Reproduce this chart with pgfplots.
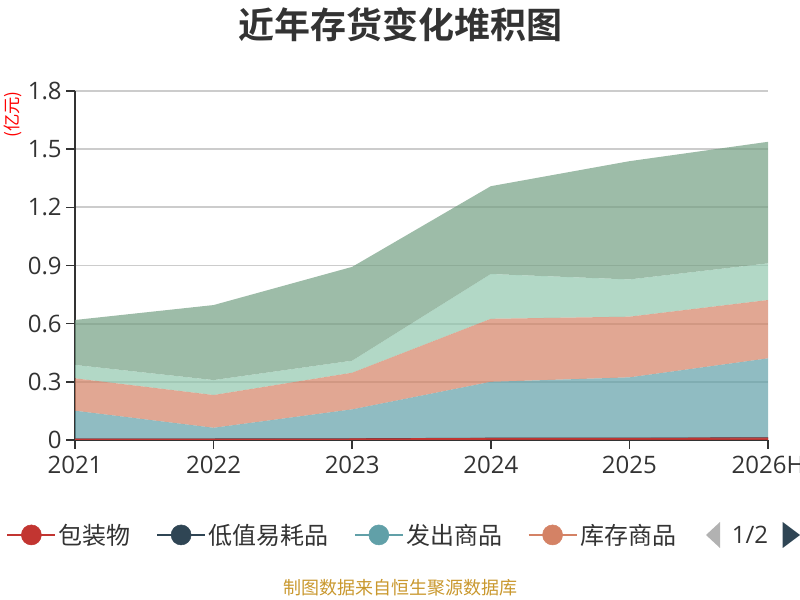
\documentclass[border=0pt]{standalone}
\usepackage{pgfplots}
\pgfplotsset{compat=1.18}
\usepackage{fontspec}
\setmainfont{Open Sans}
\newfontfamily\cjk{Noto Sans CJK SC}
\newfontfamily\cjkbold{Noto Sans CJK SC Bold}
\definecolor{cA}{HTML}{C23531}
\definecolor{cB}{HTML}{2F4554}
\definecolor{cC}{HTML}{61A0A8}
\definecolor{cD}{HTML}{D48265}
\definecolor{cE}{HTML}{91C7AE}
\definecolor{cF}{HTML}{749F83}
\definecolor{c333}{HTML}{333333}
\definecolor{gridc}{HTML}{CCCCCC}
\definecolor{foot}{HTML}{C9982E}
\begin{document}
\begin{tikzpicture}
\path[use as bounding box] (0,0) rectangle (600pt,450pt);
\begin{axis}[
  at={(56.25pt,120pt)}, anchor=south west, scale only axis,
  width=519.75pt, height=261.75pt,
  xmin=0, xmax=5, ymin=0, ymax=1.8,
  xtick={0,1,2,3,4,5}, xticklabels={2021,2022,2023,2024,2025,2026H},
  ytick={0,0.3,0.6,0.9,1.2,1.5,1.8}, yticklabels={0,0.3,0.6,0.9,1.2,1.5,1.8},
  axis x line*=bottom, axis y line*=left,
  axis line style={color=c333, line width=1.1pt, -},
  tick align=outside, major tick length=6.5pt,
  xtick style={color=c333, line width=1.1pt},
  ytick style={color=c333, line width=1.1pt},
  ymajorgrids, grid style={color=gridc, line width=1.3pt},
  tick label style={font=\fontsize{18}{20}\selectfont, color=c333},
  xticklabel style={yshift=-2pt},
  /pgf/number format/assume math mode=true,
  stack plots=y,
  legend style={at={(-0.105,-0.272)}, anchor=west, draw=none, fill=none,
    font=\cjk\fontsize{18}{20}\selectfont, text=c333,
    /tikz/every even column/.append style={column sep=17pt}},
  legend columns=4,
  legend image code/.code={\draw[line width=1.3pt] (0pt,0pt) -- (36pt,0pt); \fill (18pt,0pt) circle (7.5pt);},
]
\addlegendimage{cA}\addlegendentry{包装物}
\addlegendimage{cB}\addlegendentry{低值易耗品}
\addlegendimage{cC}\addlegendentry{发出商品}
\addlegendimage{cD}\addlegendentry{库存商品}
% 包装物
\addplot[forget plot, draw=cA, line width=0.8pt, fill=cA, fill opacity=0.7, mark=none]
 coordinates {(0,0.004) (1,0.004) (2,0.005) (3,0.008) (4,0.008) (5,0.010)} \closedcycle;
% 低值易耗品
\addplot[forget plot, draw=cB, line width=0.5pt, fill=cB, fill opacity=0.7, mark=none]
 coordinates {(0,0.002) (1,0.002) (2,0.002) (3,0.002) (4,0.002) (5,0.002)} \closedcycle;
% 发出商品
\addplot[forget plot, draw=none, fill=cC, fill opacity=0.7, mark=none]
 coordinates {(0,0.145) (1,0.057) (2,0.151) (3,0.290) (4,0.313) (5,0.409)} \closedcycle;
% 库存商品
\addplot[forget plot, draw=none, fill=cD, fill opacity=0.7, mark=none]
 coordinates {(0,0.167) (1,0.169) (2,0.189) (3,0.325) (4,0.313) (5,0.301)} \closedcycle;
% series 5
\addplot[forget plot, draw=none, fill=cE, fill opacity=0.7, mark=none]
 coordinates {(0,0.069) (1,0.077) (2,0.062) (3,0.231) (4,0.192) (5,0.189)} \closedcycle;
% series 6
\addplot[forget plot, draw=none, fill=cF, fill opacity=0.7, mark=none]
 coordinates {(0,0.232) (1,0.387) (2,0.484) (3,0.453) (4,0.610) (5,0.627)} \closedcycle;
\end{axis}
\node[font=\cjkbold\fontsize{27}{30}\selectfont, text=c333] at (300pt,431.25pt) {近年存货变化堆积图};
\node[font=\cjk\fontsize{13}{15}\selectfont, text=red, rotate=90] at (9.75pt,364pt) {(亿元)};
\node[font=\cjk\fontsize{13.5}{15}\selectfont, text=foot] at (300pt,9pt) {制图数据来自恒生聚源数据库};
\node[font=\fontsize{18}{20}\selectfont, text=c333] at (562.5pt,48.75pt) {1/2};
\fill[gray!60] (529.5pt,48.75pt) -- (540pt,58.5pt) -- (540pt,39pt) -- cycle;
\fill[cB] (600pt,48.75pt) -- (587pt,58.5pt) -- (587pt,39pt) -- cycle;
\end{tikzpicture}
\end{document}
